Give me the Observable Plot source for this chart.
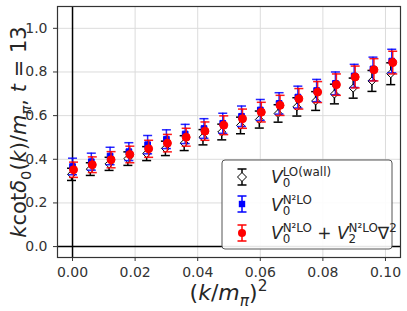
<!DOCTYPE html>
<html>
<head>
<meta charset="utf-8">
<script src="https://cdn.jsdelivr.net/npm/d3@7"></script>
<script src="https://cdn.jsdelivr.net/npm/@observablehq/plot@0.6"></script>
<style>
  html, body { margin: 0; padding: 0; background: white; }
  svg text { font-family: "DejaVu Sans", sans-serif; }
</style>
</head>
<body>
<div id="chart"></div>
<script>
// ---- data ----
const xs = [0, 0.006, 0.012, 0.018, 0.024, 0.030, 0.036, 0.042, 0.048, 0.054, 0.060, 0.066, 0.072, 0.078, 0.084, 0.090, 0.096, 0.102];
const wallY   = [0.331, 0.355, 0.379, 0.403, 0.426, 0.450, 0.474, 0.501, 0.525, 0.555, 0.582, 0.610, 0.640, 0.667, 0.699, 0.726, 0.759, 0.792];
const wallErr = [0.028, 0.029, 0.030, 0.031, 0.032, 0.033, 0.034, 0.035, 0.036, 0.038, 0.039, 0.040, 0.042, 0.043, 0.045, 0.046, 0.048, 0.050];
const n2loY   = [0.367, 0.389, 0.415, 0.435, 0.467, 0.492, 0.516, 0.541, 0.565, 0.597, 0.626, 0.656, 0.685, 0.715, 0.748, 0.782, 0.814, 0.850];
const n2loErr = [0.038, 0.039, 0.040, 0.041, 0.042, 0.043, 0.044, 0.045, 0.046, 0.047, 0.048, 0.049, 0.050, 0.051, 0.052, 0.053, 0.054, 0.054];
const fullY   = [0.352, 0.375, 0.398, 0.422, 0.448, 0.474, 0.501, 0.529, 0.556, 0.586, 0.616, 0.647, 0.677, 0.708, 0.742, 0.777, 0.810, 0.843];
const fullErr = [0.035, 0.036, 0.037, 0.038, 0.039, 0.040, 0.041, 0.042, 0.043, 0.044, 0.045, 0.046, 0.047, 0.048, 0.049, 0.050, 0.051, 0.052];
const xTicks = [0, 0.02, 0.04, 0.06, 0.08, 0.10];
const yTicks = [0, 0.2, 0.4, 0.6, 0.8, 1.0];

const rows = (ys, es) => xs.map((x, i) => ({x, y: ys[i], lo: ys[i] - es[i], hi: ys[i] + es[i]}));
const cap = {draw(ctx) { ctx.moveTo(-4.5, 0); ctx.lineTo(4.5, 0); }};

const series = [
  {data: rows(wallY, wallErr), color: "#000000", dx: -1, symbol: "diamond2", fill: "white", r: 3.6, opacity: 1},
  {data: rows(n2loY, n2loErr), color: "#0000ff", dx: 0, symbol: "square", fill: "#0000ff", r: 3.2, opacity: 0.85},
  {data: rows(fullY, fullErr), color: "#ff0000", dx: 1, symbol: "circle", fill: "#ff0000", r: 4, opacity: 0.9}
];

const marks = [
  Plot.gridX(xTicks, {stroke: "#dcdcdc", strokeOpacity: 1, strokeWidth: 1}),
  Plot.gridY(yTicks, {stroke: "#dcdcdc", strokeOpacity: 1, strokeWidth: 1}),
  Plot.ruleY([0], {stroke: "black", strokeWidth: 1.5}),
  Plot.ruleX([0], {stroke: "black", strokeWidth: 1.5}),
  Plot.axisX(xTicks, {tickFormat: d3.format(".2f"), tickSize: 4, tickPadding: 6, fontSize: 14, label: null}),
  Plot.axisY(yTicks, {tickFormat: d3.format(".1f"), tickSize: 4, tickPadding: 6, fontSize: 14, label: null})
];
for (const s of series) {
  marks.push(
    Plot.ruleX(s.data, {x: "x", y1: "lo", y2: "hi", stroke: s.color, strokeWidth: 1.5, dx: s.dx, strokeOpacity: s.opacity}),
    Plot.dot(s.data, {x: "x", y: "lo", symbol: cap, stroke: s.color, strokeWidth: 1.5, dx: s.dx, strokeOpacity: s.opacity}),
    Plot.dot(s.data, {x: "x", y: "hi", symbol: cap, stroke: s.color, strokeWidth: 1.5, dx: s.dx, strokeOpacity: s.opacity}),
    Plot.dot(s.data, {x: "x", y: "y", symbol: s.symbol, r: s.r, fill: s.fill, stroke: s.color, strokeWidth: 1, dx: s.dx})
  );
}
marks.push(Plot.frame({stroke: "#333", strokeWidth: 1.2}));

const chart = Plot.plot({
  width: 407, height: 311,
  marginLeft: 57, marginRight: 7, marginTop: 6, marginBottom: 54,
  x: {domain: [-0.0048, 0.1048]},
  y: {domain: [-0.05, 1.1]},
  style: {fontFamily: "DejaVu Sans", fontSize: "14px", color: "#333", background: "white"},
  marks
});
document.getElementById("chart").appendChild(chart);

// ---- math-like text helper ----
const svg = d3.select(chart);
function mathText(g, items, size) {
  g.attr("text-anchor", "start");
  let cx = 0;
  for (const it of items) {
    if (it.t !== undefined) {
      const e = g.append("text").attr("x", cx).attr("y", 0).attr("font-size", size).attr("text-anchor", "start")
        .attr("font-style", it.i ? "italic" : "normal").attr("fill", "#262626").attr("xml:space", "preserve")
        .style("white-space", "pre").text(it.t);
      cx += e.node().getComputedTextLength();
    } else {
      let w = 0;
      const ss = size * 0.7;
      if (it.sup) {
        const e = g.append("text").attr("x", cx).attr("y", -size * 0.42).attr("font-size", ss).attr("text-anchor", "start")
          .attr("font-style", it.supI ? "italic" : "normal").attr("fill", "#262626").text(it.sup);
        w = Math.max(w, e.node().getComputedTextLength());
      }
      if (it.sub) {
        const e = g.append("text").attr("x", cx).attr("y", size * 0.25).attr("font-size", ss).attr("text-anchor", "start")
          .attr("font-style", it.subI ? "italic" : "normal").attr("fill", "#262626").text(it.sub);
        w = Math.max(w, e.node().getComputedTextLength());
      }
      cx += w;
    }
  }
  return cx;
}

// x label
{
  const g = svg.append("g");
  const w = mathText(g, [{t: "("}, {t: "k", i: true}, {t: "/"}, {t: "m", i: true}, {sub: "π", subI: true}, {t: ")"}, {sup: "2"}], 22);
  g.attr("transform", `translate(${228.5 - w / 2},300)`);
}
// y label
{
  const g = svg.append("g");
  const w = mathText(g, [{t: "k", i: true}, {t: "cot"}, {t: "δ", i: true}, {sub: "0"}, {t: "("}, {t: "k", i: true}, {t: ")/"},
    {t: "m", i: true}, {sub: "π", subI: true}, {t: ", "}, {t: "t", i: true}, {t: " = 13"}], 21);
  g.attr("transform", `translate(26,${132 + w / 2}) rotate(-90)`);
}

// legend
{
  const lg = svg.append("g");
  lg.append("rect").attr("x", 222).attr("y", 160).attr("width", 170).attr("height", 89).attr("rx", 3)
    .attr("fill", "white").attr("fill-opacity", 0.9).attr("stroke", "#555").attr("stroke-width", 1);
  const entries = [
    {cy: 177, color: "#000", kind: "diamond", base: 183,
     items: [{t: "V", i: true}, {sup: "LO(wall)", sub: "0"}]},
    {cy: 204, color: "#0000ff", kind: "square", base: 211,
     items: [{t: "V", i: true}, {sup: "N²LO", sub: "0"}]},
    {cy: 233, color: "#ff0000", kind: "circle", base: 239,
     items: [{t: "V", i: true}, {sup: "N²LO", sub: "0"}, {t: " + "}, {t: "V", i: true}, {sup: "N²LO", sub: "2"}, {t: "∇"}, {sup: "2"}]}
  ];
  const mx = 242;
  for (const e of entries) {
    lg.append("line").attr("x1", mx).attr("x2", mx).attr("y1", e.cy - 8).attr("y2", e.cy + 8).attr("stroke", e.color).attr("stroke-width", 1.5);
    for (const dy of [-8, 8]) lg.append("line").attr("x1", mx - 4.5).attr("x2", mx + 4.5).attr("y1", e.cy + dy).attr("y2", e.cy + dy).attr("stroke", e.color).attr("stroke-width", 1.5);
    if (e.kind === "diamond") lg.append("path").attr("d", `M${mx},${e.cy - 4.5}L${mx + 4.5},${e.cy}L${mx},${e.cy + 4.5}L${mx - 4.5},${e.cy}Z`).attr("fill", "white").attr("stroke", "#000").attr("stroke-width", 1);
    if (e.kind === "square") lg.append("rect").attr("x", mx - 3.2).attr("y", e.cy - 3.2).attr("width", 6.4).attr("height", 6.4).attr("fill", e.color);
    if (e.kind === "circle") lg.append("circle").attr("cx", mx).attr("cy", e.cy).attr("r", 4).attr("fill", e.color);
    const g = lg.append("g").attr("transform", `translate(271,${e.base})`);
    mathText(g, e.items, 17);
  }
}
</script>
</body>
</html>
